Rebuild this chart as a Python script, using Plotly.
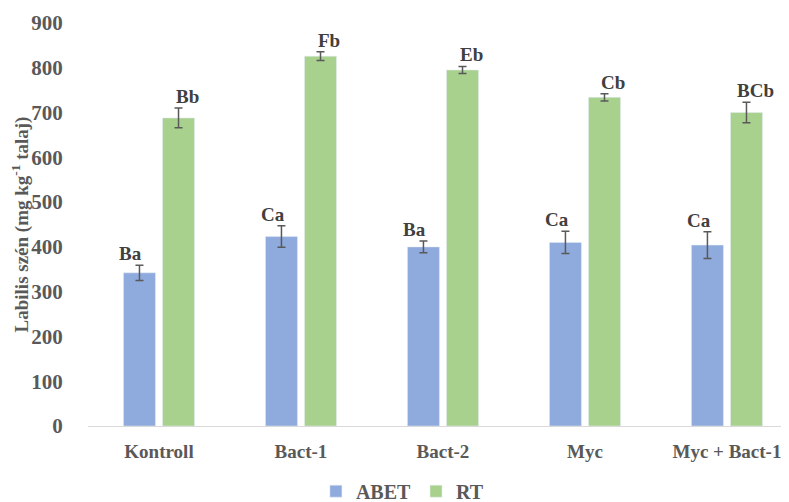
import plotly.graph_objects as go

categories = ["Kontroll", "Bact-1", "Bact-2", "Myc", "Myc + Bact-1"]
abet_values = [342, 423, 400, 410, 404]
abet_errors = [17, 24, 13, 25, 30]
abet_letters = ["Ba", "Ca", "Ba", "Ca", "Ca"]
rt_values = [688, 826, 795, 734, 700]
rt_errors = [22, 10, 8, 8, 23]
rt_letters = ["Bb", "Fb", "Eb", "Cb", "BCb"]
y_ticks = [0, 100, 200, 300, 400, 500, 600, 700, 800, 900]

FONT = "Liberation Serif"
GREY = "#595959"

fig = go.Figure()
fig.add_trace(go.Bar(
    name="ABET", x=categories, y=abet_values, marker_color="#8FAADC",
    error_y=dict(type="data", array=abet_errors, color=GREY, thickness=1.5, width=4),
))
fig.add_trace(go.Bar(
    name="RT", x=categories, y=rt_values, marker_color="#A9D18E",
    error_y=dict(type="data", array=rt_errors, color=GREY, thickness=1.5, width=4),
))

# letter annotations above error bars
for vals, errs, letters, offset in [(abet_values, abet_errors, abet_letters, -0.2),
                                     (rt_values, rt_errors, rt_letters, 0.2)]:
    for i, (v, e, t) in enumerate(zip(vals, errs, letters)):
        fig.add_annotation(x=i + offset, y=v + e, text=t, showarrow=False,
                           xref="x", yref="y", yanchor="bottom", yshift=-1,
                           font=dict(family=FONT, size=19, color="#404040", weight="bold"))

# page body has an 8px margin, so the figure is sized to the remaining viewport
fig.update_layout(
    width=781, height=494,
    margin=dict(l=80, r=0, t=15, b=76),
    plot_bgcolor="white", paper_bgcolor="white",
    barmode="group", bargap=0.45, bargroupgap=0.18,
    font=dict(family=FONT, size=20, color=GREY, weight="bold"),
    legend=dict(orientation="h", xref="container", yref="container",
                x=0.505, xanchor="center", y=0.022, yanchor="middle",
                font=dict(family=FONT, size=20, color=GREY, weight="bold"),
                itemwidth=30, tracegroupgap=0),
    showlegend=True,
)
fig.update_xaxes(
    type="category", range=[-0.5, 4.437], automargin=False,
    showline=True, linecolor="#D9D9D9", linewidth=1,
    ticks="outside", ticklen=8, tickcolor="rgba(0,0,0,0)",
    tickfont=dict(family=FONT, size=19, color=GREY, weight="bold"),
    showgrid=False,
)
fig.update_yaxes(
    range=[0, 900], tickvals=y_ticks, showgrid=False, zeroline=False, showline=False,
    automargin=False,
    ticks="outside", ticklen=20, tickcolor="rgba(0,0,0,0)",
    tickfont=dict(family=FONT, size=21, color=GREY, weight="bold"),
    title=dict(text="Labilis szén (mg kg<sup>-1</sup> talaj)", standoff=12,
               font=dict(family=FONT, size=19, color=GREY, weight="bold")),
)

fig.write_html("out.html")
